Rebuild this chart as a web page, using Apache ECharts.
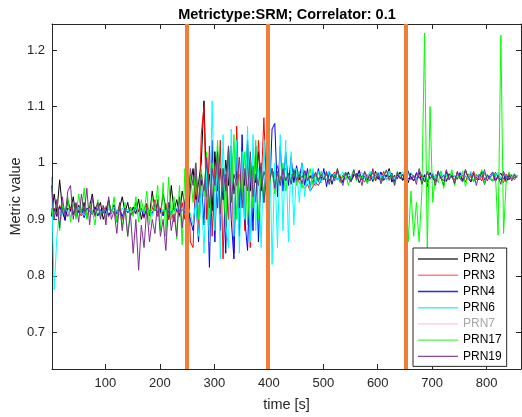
<!DOCTYPE html>
<html>
<head>
<meta charset="utf-8">
<script src="https://cdn.jsdelivr.net/npm/echarts@6/dist/echarts.min.js"></script>
<style>
  html, body { margin: 0; padding: 0; background: #fff; }
  #chart { width: 522px; height: 417px; }
</style>
</head>
<body>
<div id="chart"></div>
<script>
// sample times [s]
const time = [
  1, 6, 11, 16, 21, 26, 31, 36, 41, 46,
  51, 56, 61, 66, 71, 76, 81, 86, 91, 96,
  101, 106, 111, 116, 121, 126, 131, 136, 141, 146,
  151, 156, 161, 166, 171, 176, 181, 186, 191, 196,
  201, 206, 211, 216, 221, 226, 231, 236, 241, 246,
  251, 256, 261, 266, 271, 276, 281, 286, 291, 296,
  301, 306, 311, 316, 321, 326, 331, 336, 341, 346,
  351, 356, 361, 366, 371, 376, 381, 386, 391, 396,
  401, 406, 411, 416, 421, 426, 431, 436, 441, 446,
  451, 456, 461, 466, 471, 476, 481, 486, 491, 496,
  501, 506, 511, 516, 521, 526, 531, 536, 541, 546,
  551, 556, 561, 566, 571, 576, 581, 586, 591, 596,
  601, 606, 611, 616, 621, 626, 631, 636, 641, 646,
  651, 656, 661, 666, 671, 676, 681, 686, 691, 696,
  701, 706, 711, 716, 721, 726, 731, 736, 741, 746,
  751, 756, 761, 766, 771, 776, 781, 786, 791, 796,
  801, 806, 811, 816, 821, 826, 831, 836, 841, 846,
  851, 856
];

const prn2 = [
  0.905, 0.945, 0.912, 0.97, 0.92, 0.898, 0.935, 0.915, 0.94, 0.905,
  0.925, 0.91, 0.93, 0.902, 0.922, 0.945, 0.908, 0.918, 0.93, 0.9,
  0.915, 0.935, 0.91, 0.926, 0.895, 0.92, 0.94, 0.912, 0.93, 0.905,
  0.922, 0.91, 0.936, 0.9, 0.918, 0.928, 0.906, 0.95, 0.915, 0.93,
  0.91, 0.945, 0.92, 0.9, 0.96, 0.915, 0.935, 0.908, 0.95, 0.925,
  0.87, 0.96, 0.99, 0.93, 0.965, 1.0, 1.11, 0.94, 0.98, 0.915,
  1.02, 0.95, 0.99, 0.935, 1.005, 0.96, 1.03, 0.945, 0.985, 0.92,
  1.01, 0.96, 1.04, 0.95, 0.995, 0.965, 1.02, 0.95, 0.985, 0.97,
  0.975, 0.985, 0.965, 0.98, 0.97, 0.988, 0.968, 0.978, 0.972, 0.983,
  0.966, 0.98, 0.974, 0.986, 0.969, 0.977, 0.964, 0.981, 0.972, 0.975,
  0.97, 0.982, 0.968, 0.979, 0.974, 0.986, 0.966, 0.978, 0.971, 0.984,
  0.968, 0.977, 0.981, 0.965, 0.975, 0.983, 0.97, 0.979, 0.967, 0.985,
  0.973, 0.968, 0.98, 0.976, 0.99, 0.966, 0.978, 0.972, 0.984, 0.969,
  0.977, 0.965, 0.982, 0.974, 0.97, 0.986, 0.962, 0.979, 0.958, 0.983,
  0.972, 0.967, 0.98, 0.975, 0.96, 0.985, 0.971, 0.978, 0.964, 0.982,
  0.976, 0.969, 0.988, 0.973, 0.966, 0.981, 0.974, 0.97, 0.984, 0.962,
  0.978, 0.972, 0.968, 0.983, 0.975, 0.97, 0.98, 0.966, 0.977, 0.972,
  0.98, 0.975
];

const prn3 = [
  0.915, 0.92, 0.908, 0.925, 0.912, 0.918, 0.905, 0.922, 0.91, 0.928,
  0.913, 0.906, 0.92, 0.915, 0.925, 0.908, 0.918, 0.93, 0.91, 0.917,
  0.923, 0.905, 0.915, 0.92, 0.91, 0.926, 0.9, 0.918, 0.912, 0.922,
  0.908, 0.93, 0.915, 0.92, 0.902, 0.925, 0.912, 0.918, 0.935, 0.905,
  0.92, 0.91, 0.928, 0.9, 0.915, 0.895, 0.92, 0.905, 0.93, 0.9,
  1.04, 0.86, 0.85, 0.99, 0.88, 1.05, 1.1, 0.9, 1.03, 0.87,
  0.99, 0.92, 1.04, 0.83, 0.98, 0.9, 1.03, 0.84, 1.065, 0.93,
  1.0, 0.88, 1.02, 0.85, 0.99, 0.93, 1.04, 0.96, 1.08, 0.95,
  0.98, 0.99, 0.975, 0.995, 0.97, 0.985, 0.99, 0.975, 0.98, 0.97,
  0.985, 0.965, 0.96, 0.955, 0.962, 0.95, 0.958, 0.965, 0.96, 0.97,
  0.972, 0.98, 0.968, 0.976, 0.984, 0.97, 0.978, 0.966, 0.982, 0.974,
  0.969, 0.98, 0.975, 0.987, 0.971, 0.966, 0.979, 0.974, 0.983, 0.968,
  0.977, 0.972, 0.985, 0.97, 0.976, 0.98, 0.967, 0.981, 0.973, 0.978,
  0.97, 0.984, 0.975, 0.968, 0.98, 0.973, 0.979, 0.966, 0.982, 0.974,
  0.977, 0.969, 0.986, 0.972, 0.978, 0.967, 0.981, 0.975, 0.97, 0.983,
  0.972, 0.978, 0.966, 0.98, 0.974, 0.985, 0.97, 0.976, 0.968, 0.982,
  0.975, 0.971, 0.984, 0.967, 0.979, 0.973, 0.965, 0.98, 0.972, 0.976,
  0.97, 0.978
];

const prn4 = [
  0.91, 0.918, 0.905, 0.922, 0.912, 0.9, 0.92, 0.915, 0.908, 0.925,
  0.912, 0.918, 0.903, 0.92, 0.914, 0.909, 0.922, 0.906, 0.917, 0.911,
  0.92, 0.908, 0.915, 0.925, 0.91, 0.918, 0.905, 0.92, 0.912, 0.916,
  0.908, 0.922, 0.913, 0.918, 0.905, 0.92, 0.915, 0.91, 0.925, 0.912,
  0.918, 0.906, 0.92, 0.913, 0.91, 0.922, 0.915, 0.908, 0.918, 0.912,
  0.92, 0.9, 0.88, 0.94, 0.86, 0.97, 0.89, 1.0, 0.815, 1.04,
  0.86, 1.01, 0.88, 0.99, 0.84, 1.03, 0.9, 0.83, 1.02, 0.87,
  1.05, 0.9, 0.845, 1.0, 0.88, 1.03, 0.86, 0.99, 0.93, 1.02,
  0.93, 1.06, 1.07, 0.94, 1.03, 0.95, 1.02, 0.96, 1.01, 0.965,
  0.995, 0.97, 1.0, 0.96, 0.99, 0.955, 0.985, 0.96, 0.99, 0.965,
  0.99, 0.958, 0.985, 0.962, 0.98, 0.97, 0.975, 0.965, 0.983, 0.972,
  0.968, 0.98, 0.974, 0.986, 0.97, 0.976, 0.965, 0.981, 0.973, 0.978,
  0.971, 0.984, 0.969, 0.977, 0.975, 0.982, 0.967, 0.979, 0.973, 0.97,
  0.98, 0.972, 0.976, 0.968, 0.983, 0.974, 0.97, 0.979, 0.966, 0.981,
  0.975, 0.97, 0.984, 0.973, 0.978, 0.968, 0.98, 0.974, 0.977, 0.971,
  0.983, 0.969, 0.976, 0.972, 0.98, 0.967, 0.978, 0.974, 0.985, 0.97,
  0.977, 0.973, 0.98, 0.968, 0.975, 0.982, 0.971, 0.976, 0.97, 0.979,
  0.974, 0.977
];

const prn6 = [
  0.975, 0.775, 0.87, 0.915, 0.908, 0.92, 0.912, 0.905, 0.918, 0.91,
  0.922, 0.913, 0.907, 0.916, 0.92, 0.909, 0.914, 0.924, 0.91, 0.917,
  0.905, 0.919, 0.912, 0.922, 0.915, 0.908, 0.92, 0.913, 0.918, 0.91,
  0.916, 0.923, 0.909, 0.917, 0.912, 0.92, 0.914, 0.907, 0.921, 0.915,
  0.91, 0.918, 0.913, 0.922, 0.908, 0.917, 0.92, 0.912, 0.918, 0.922,
  0.925, 0.91, 0.89, 0.935, 0.87, 0.96, 0.84, 0.99, 0.86, 1.11,
  0.88, 1.03, 0.83, 1.05, 0.89, 0.85, 1.06, 0.87, 1.04, 0.84,
  1.02, 0.9, 1.065, 0.86, 1.05, 0.88, 0.99, 0.85, 1.04, 0.9,
  1.07, 0.82, 1.0, 0.85, 1.05, 0.88, 1.04, 0.86, 1.02, 0.89,
  0.99, 0.93, 1.0, 0.94, 0.98, 0.95, 0.99, 0.96, 0.985, 0.965,
  0.98, 0.97, 0.986, 0.974, 0.982, 0.969, 0.978, 0.984, 0.972, 0.98,
  0.975, 0.987, 0.97, 0.979, 0.983, 0.972, 0.977, 0.985, 0.971, 0.979,
  0.984, 0.974, 0.98, 0.969, 0.986, 0.976, 0.972, 0.982, 0.978, 0.985,
  0.971, 0.979, 0.983, 0.975, 0.97, 0.987, 0.976, 0.973, 0.981, 0.977,
  0.983, 0.972, 0.978, 0.986, 0.974, 0.98, 0.97, 0.984, 0.976, 0.979,
  0.973, 0.982, 0.977, 0.971, 0.985, 0.975, 0.98, 0.972, 0.978, 0.983,
  0.976, 0.97, 0.981, 0.975, 0.984, 0.972, 0.979, 0.974, 0.98, 0.976,
  0.982, 0.975
];

// PRN7 has no valid samples in this run
const prn7 = [];

const prn17 = [
  0.92, 0.9, 0.935, 0.88, 0.925, 0.91, 0.94, 0.895, 0.93, 0.9,
  0.945, 0.91, 0.955, 0.9, 0.93, 0.915, 0.89, 0.935, 0.905, 0.92,
  0.9, 0.93, 0.91, 0.94, 0.895, 0.925, 0.885, 0.93, 0.87, 0.92,
  0.905, 0.94, 0.895, 0.935, 0.91, 0.95, 0.89, 0.94, 0.915, 0.96,
  0.88, 0.965, 0.87, 0.975, 0.9, 0.94, 0.865, 0.96, 0.855, 0.99,
  0.91, 0.98, 0.93, 1.0, 0.9, 0.99, 0.94, 1.02, 0.89, 1.0,
  0.95, 1.04, 0.91, 0.99, 0.88, 1.03, 0.93, 1.05, 0.9, 0.98,
  0.94, 1.02, 0.89, 1.0, 0.92, 1.04, 0.9, 0.99, 0.93, 1.0,
  0.96, 0.99, 0.945, 0.985, 0.96, 1.0, 0.95, 0.98, 0.965, 0.99,
  0.96, 0.985, 0.955, 0.98, 0.97, 0.99, 0.96, 0.982, 0.968, 0.985,
  0.97, 0.985, 0.962, 0.98, 0.975, 0.99, 0.965, 0.978, 0.984, 0.96,
  0.976, 0.988, 0.968, 0.98, 0.972, 0.985, 0.963, 0.979, 0.986, 0.97,
  0.982, 0.966, 0.978, 0.988, 0.971, 0.98, 0.962, 0.985, 0.974, 0.98,
  0.975, 0.86, 0.95, 0.87, 0.93, 0.86, 0.95, 1.23, 0.845, 1.10,
  0.93, 0.98, 0.965, 0.985, 0.955, 0.978, 0.97, 0.988, 0.96, 0.98,
  0.972, 0.986, 0.958, 0.978, 0.982, 0.966, 0.98, 0.974, 0.988, 0.963,
  0.98, 0.975, 0.968, 0.982, 0.872, 1.226, 0.875, 0.97, 0.984, 0.972,
  0.979, 0.975
];

const prn19 = [
  0.96, 0.9, 0.935, 0.885, 0.94, 0.905, 0.95, 0.96, 0.9, 0.93,
  0.895, 0.945, 0.91, 0.955, 0.89, 0.94, 0.905, 0.93, 0.9, 0.925,
  0.89, 0.94, 0.9, 0.915, 0.875, 0.93, 0.88, 0.92, 0.87, 0.91,
  0.84, 0.9, 0.81, 0.89, 0.85, 0.92, 0.86, 0.9, 0.875, 0.935,
  0.87, 0.9, 0.845, 0.93, 0.88, 0.91, 0.87, 0.94, 0.885, 0.93,
  0.92, 0.99, 0.96, 1.0, 0.93, 0.98, 0.95, 1.01, 0.92, 0.99,
  0.96, 1.02, 0.91, 0.99, 0.95, 1.03, 0.93, 0.98, 0.96, 1.01,
  0.92, 0.99, 0.95, 1.02, 0.94, 0.98, 0.96, 1.0, 0.93, 0.975,
  0.965, 0.99, 0.955, 0.985, 0.96, 0.99, 0.968, 0.982, 0.962, 0.988,
  0.97, 0.98, 0.963, 0.986, 0.968, 0.978, 0.972, 0.984, 0.966, 0.98,
  0.97, 0.985, 0.962, 0.98, 0.968, 0.99, 0.972, 0.96, 0.983, 0.975,
  0.966, 0.988, 0.971, 0.979, 0.96, 0.985, 0.974, 0.968, 0.99, 0.97,
  0.982, 0.963, 0.976, 0.987, 0.969, 0.978, 0.96, 0.984, 0.972, 0.98,
  0.966, 0.986, 0.97, 0.978, 0.962, 0.99, 0.974, 0.967, 0.985, 0.971,
  0.98, 0.96, 0.984, 0.973, 0.968, 0.988, 0.97, 0.979, 0.963, 0.985,
  0.972, 0.966, 0.987, 0.975, 0.969, 0.983, 0.96, 0.98, 0.974, 0.988,
  0.968, 0.978, 0.984, 0.97, 0.976, 0.962, 0.985, 0.972, 0.98, 0.968,
  0.978, 0.974
];

// event markers (vertical lines) [s]
const eventTimes = [250, 398, 652];

const seriesNames = ['PRN2', 'PRN3', 'PRN4', 'PRN6', 'PRN7', 'PRN17', 'PRN19'];
const seriesValues = [prn2, prn3, prn4, prn6, prn7, prn17, prn19];
const seriesColors = ['#000000', '#ff0000', '#0000ff', '#00ffff', '#ffc4f0', '#00ff00', '#7e2f8e'];
const legendColors = ['#3a3a3a', '#ff7f7f', '#2a2ae6', '#40f2f2', '#ffc4f0', '#4cf24c', '#8a4a9a'];

const font = "'Liberation Sans', Arial, sans-serif";
const ink = '#262626';

const chart = echarts.init(document.getElementById('chart'));

const series = seriesNames.map((name, k) => ({
  name: name,
  type: 'line',
  data: seriesValues[k].map((v, i) => [time[i], v]),
  symbol: 'none',
  showSymbol: false,
  lineStyle: { color: seriesColors[k], width: 1 },
  itemStyle: { color: seriesColors[k] },
  emphasis: { disabled: true },
  animation: false
}));

series.push({
  name: 'events',
  type: 'line',
  data: [],
  symbol: 'none',
  animation: false,
  markLine: {
    silent: true,
    animation: false,
    symbol: ['none', 'none'],
    label: { show: false },
    lineStyle: { color: '#ef7f36', width: 4, type: 'solid', opacity: 1 },
    emphasis: { disabled: true },
    data: eventTimes.map(t => ({ xAxis: t }))
  }
});

const xBase = {
  type: 'value',
  min: 2,
  max: 863,
  splitNumber: 9,
  axisLine: { onZero: false, lineStyle: { color: ink, width: 1 } },
  axisTick: { inside: true, length: 5, lineStyle: { color: ink } },
  splitLine: { show: false }
};
const yBase = {
  type: 'value',
  min: 0.635,
  max: 1.246,
  splitNumber: 6,
  axisLine: { onZero: false, lineStyle: { color: ink, width: 1 } },
  axisTick: { inside: true, length: 5, lineStyle: { color: ink } },
  splitLine: { show: false }
};

chart.setOption({
  animation: false,
  backgroundColor: '#fff',
  textStyle: { fontFamily: font },
  grid: { left: 52, right: 1, top: 24, bottom: 48, containLabel: false, outerBoundsMode: 'none' },
  graphic: [{
    type: 'text',
    x: 287,
    y: 15,
    style: {
      text: 'Metrictype:SRM; Correlator: 0.1',
      font: 'bold 14.5px ' + font,
      fill: '#000',
      textAlign: 'center',
      textVerticalAlign: 'middle'
    }
  }],
  xAxis: [
    Object.assign({}, xBase, {
      position: 'bottom',
      name: 'time [s]',
      nameLocation: 'middle',
      nameGap: 28,
      nameMoveOverlap: false,
      nameTextStyle: { color: ink, fontSize: 14.5, fontFamily: font },
      axisLabel: { color: ink, fontSize: 13, fontFamily: font, margin: 8, showMinLabel: false, showMaxLabel: false }
    }),
    Object.assign({}, xBase, { position: 'top', axisLabel: { show: false } })
  ],
  yAxis: [
    Object.assign({}, yBase, {
      position: 'left',
      name: 'Metric value',
      nameLocation: 'middle',
      nameGap: 29,
      nameMoveOverlap: false,
      nameTextStyle: { color: ink, fontSize: 14.5, fontFamily: font },
      axisLabel: { color: ink, fontSize: 13, fontFamily: font, margin: 7, showMinLabel: false, showMaxLabel: false }
    }),
    Object.assign({}, yBase, { position: 'right', axisLabel: { show: false } })
  ],
  legend: {
    orient: 'vertical',
    left: 413,
    top: 248,
    padding: [4, 5, 3, 5],
    icon: 'rect',
    itemWidth: 40,
    itemHeight: 1.4,
    itemGap: 2.23,
    backgroundColor: '#fff',
    borderColor: ink,
    borderWidth: 1,
    borderRadius: 0,
    selectedMode: false,
    z: 10,
    textStyle: { fontFamily: font, fontSize: 12, color: '#000', lineHeight: 14 },
    data: seriesNames.map((n, k) => {
      const item = { name: n, itemStyle: { color: legendColors[k], borderWidth: 0 } };
      if (n === 'PRN7') item.textStyle = { color: '#a6a6a6' };
      return item;
    })
  },
  series: series
});
</script>
</body>
</html>
